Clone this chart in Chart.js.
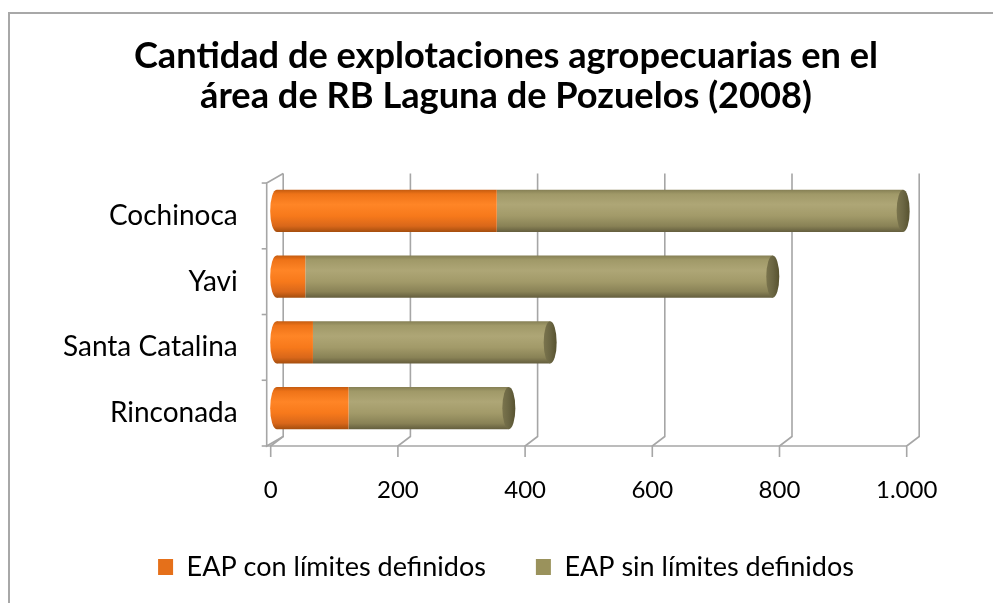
<!DOCTYPE html>
<html>
<head>
<meta charset="utf-8">
<script src="https://cdn.jsdelivr.net/npm/chart.js@4.4.0/dist/chart.umd.min.js"></script>
<style>
html, body { margin: 0; padding: 0; background: #fff; }
#wrap { position: relative; width: 993px; height: 603px; overflow: hidden; }
#frame { position: absolute; left: 8px; top: 12px; width: 1100px; height: 700px;
         border-left: 2px solid #a8a8a8; border-top: 2px solid #a8a8a8; }
canvas { position: absolute; left: 0; top: 0; }
</style>
</head>
<body>
<div id="wrap">
  <div id="frame"></div>
  <canvas id="chart" width="993" height="603"></canvas>
</div>
<script>
// data
const categories = ['Cochinoca', 'Yavi', 'Santa Catalina', 'Rinconada'];
const conLimites = [346, 45, 57, 113];
const sinLimites = [639, 735, 373, 252];
const seriesNames = ['EAP con límites definidos', 'EAP sin límites definidos'];
const legendColors = ['#e5701a', '#9a925c'];
const xTicks = [0, 200, 400, 600, 800, 1000];
const xTickLabels = ['0', '200', '400', '600', '800', '1.000'];
const titleLines = ['Cantidad de explotaciones agropecuarias en el', 'área de RB Laguna de Pozuelos (2008)'];

const FONT = 'Lato, "Open Sans", sans-serif';
const BAR_PCT = 0.64;
const CAP_RX = 6.5;

// cylinder shading, top to bottom
const orangeStops = [[0, '#c55c10'], [0.1, '#ee7318'], [0.35, '#ff8526'], [0.62, '#f7791b'], [0.86, '#d9671a'], [1, '#a54e0e']];
const oliveStops = [[0, '#868055'], [0.1, '#a09968'], [0.35, '#aea676'], [0.62, '#a29a69'], [0.86, '#898256'], [1, '#645e3e']];

function vGrad(ctx, cy, h, stops) {
    const g = ctx.createLinearGradient(0, cy - h / 2, 0, cy + h / 2);
    stops.forEach(s => g.addColorStop(s[0], s[1]));
    return g;
}

function cylinderFill(stops, flat) {
    return (c) => {
        const chart = c.chart;
        if (c.type !== 'data' || !chart.chartArea || !chart.scales.y) return flat;
        const y = chart.scales.y;
        const band = (y.bottom - y.top) / categories.length;
        return vGrad(chart.ctx, y.getPixelForValue(c.dataIndex), band * BAR_PCT, stops);
    };
}

// 3D walls, floor and gridlines
const frame3d = {
    id: 'frame3d',
    afterLayout(chart) {
        // let the tick labels run past their boxes
        chart.scales.y.left = 0;
        chart.scales.x.bottom = chart.height;
    },
    beforeDatasetsDraw(chart) {
        const {ctx, scales: {x, y}} = chart;
        const dxB = 6.5, dyB = -4.5, dxF = -6, dyF = 5;
        ctx.save();
        ctx.strokeStyle = '#a6a6a6';
        ctx.lineWidth = 1.6;
        xTicks.forEach(v => {
            const px = x.getPixelForValue(v);
            ctx.beginPath();
            ctx.moveTo(px + dxB, y.top + dyB);
            ctx.lineTo(px + dxB, y.bottom + dyB);
            ctx.lineTo(px + dxF, y.bottom + dyF);
            ctx.lineTo(px + dxF, y.bottom + dyF + 11);
            ctx.stroke();
        });
        const lx = x.getPixelForValue(0) + dxF - 4;
        // floor front edge
        ctx.beginPath();
        ctx.moveTo(lx, y.bottom + dyF);
        ctx.lineTo(x.getPixelForValue(1000) + dxF, y.bottom + dyF);
        ctx.stroke();
        // side wall
        ctx.beginPath();
        ctx.moveTo(x.getPixelForValue(0) + dxB, y.top + dyB);
        ctx.lineTo(lx, y.top + dyF);
        ctx.lineTo(lx, y.bottom + dyF);
        ctx.lineTo(x.getPixelForValue(0) + dxB, y.bottom + dyB);
        ctx.stroke();
        const band = (y.bottom - y.top) / categories.length;
        for (let i = 0; i <= categories.length; i++) {
            const ty = y.top + dyF + band * i;
            ctx.beginPath();
            ctx.moveTo(lx - 5, ty);
            ctx.lineTo(lx, ty);
            ctx.stroke();
        }
        ctx.restore();

        // rounded left ends of the cylinders
        const meta = chart.getDatasetMeta(0);
        meta.data.forEach(bar => {
            const p = bar.getProps(['y', 'base', 'height'], true);
            ctx.save();
            ctx.fillStyle = vGrad(ctx, p.y, p.height, orangeStops);
            ctx.beginPath();
            ctx.ellipse(p.base, p.y, CAP_RX, p.height / 2, 0, 0, Math.PI * 2);
            ctx.fill();
            ctx.restore();
        });
    },
    afterDatasetsDraw(chart) {
        const ctx = chart.ctx;
        const meta = chart.getDatasetMeta(chart.data.datasets.length - 1);
        meta.data.forEach(bar => {
            const p = bar.getProps(['x', 'y', 'height'], true);
            const g = ctx.createLinearGradient(p.x - CAP_RX, 0, p.x + CAP_RX, 0);
            g.addColorStop(0, '#7a744d');
            g.addColorStop(0.5, '#6b6643');
            g.addColorStop(1, '#57522f');
            ctx.save();
            ctx.fillStyle = g;
            ctx.beginPath();
            ctx.ellipse(p.x, p.y, CAP_RX, p.height / 2, 0, 0, Math.PI * 2);
            ctx.fill();
            ctx.restore();
        });
    }
};

new Chart(document.getElementById('chart'), {
    type: 'bar',
    data: {
        labels: categories,
        datasets: [
            { label: seriesNames[0], data: conLimites, backgroundColor: cylinderFill(orangeStops, legendColors[0]),
              barPercentage: BAR_PCT, categoryPercentage: 1, borderWidth: 0 },
            { label: seriesNames[1], data: sinLimites, backgroundColor: cylinderFill(oliveStops, legendColors[1]),
              barPercentage: BAR_PCT, categoryPercentage: 1, borderWidth: 0 }
        ]
    },
    options: {
        indexAxis: 'y',
        responsive: false,
        animation: false,
        layout: { padding: { left: 99.3, right: 80.3, top: 0, bottom: 12.5 } },
        scales: {
            x: {
                stacked: true, min: 0, max: 1000,
                afterBuildTicks: s => { s.ticks = xTicks.map(v => ({ value: v })); },
                afterFit: s => { s.height = 62.5; },
                grid: { display: false, drawTicks: false },
                border: { display: false },
                ticks: { padding: 35, labelOffset: -6, color: '#000', font: { family: FONT, size: 24 },
                         callback: (v, i) => xTickLabels[i] }
            },
            y: {
                stacked: true,
                afterFit: s => { s.width = 177.4; },
                grid: { display: false, drawTicks: false },
                border: { display: false },
                ticks: { padding: 39, labelOffset: 5, color: '#000', font: { family: FONT, size: 28 } }
            }
        },
        plugins: {
            title: {
                display: true, text: titleLines, color: '#000',
                font: { family: FONT, size: 36.2, weight: 'bold', lineHeight: 1.1 },
                padding: { top: 36.5, bottom: 61.9 }
            },
            legend: {
                position: 'bottom',
                labels: {
                    color: '#000', font: { family: FONT, size: 27 }, boxWidth: 15, boxHeight: 16, padding: 50,
                    generateLabels: chart => Chart.defaults.plugins.legend.labels.generateLabels(chart)
                        .map((l, i) => ({ ...l, fillStyle: legendColors[i], strokeStyle: legendColors[i], lineWidth: 0 }))
                }
            },
            tooltip: { enabled: false }
        }
    },
    plugins: [frame3d]
});
</script>
</body>
</html>
